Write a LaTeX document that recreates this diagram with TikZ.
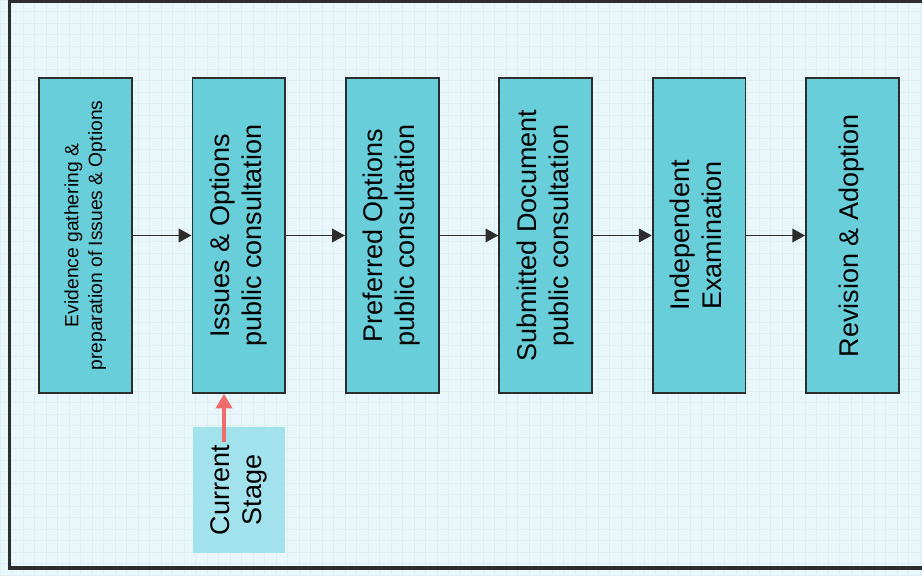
\documentclass[tikz,border=0pt]{standalone}
\usepackage{fontspec}
\setmainfont{Liberation Sans}
\usetikzlibrary{arrows.meta,positioning}

\definecolor{stagecyan}{RGB}{104,207,218}
\definecolor{paperblue}{RGB}{234,247,250}
\definecolor{gridblue}{RGB}{220,239,244}
\definecolor{currentcyan}{RGB}{162,226,236}
\definecolor{pointerred}{RGB}{240,108,108}
\definecolor{edgegray}{RGB}{45,45,45}

\newcommand{\uptext}[1]{\rotatebox{90}{\begin{tabular}{@{}c@{}}#1\end{tabular}}}

\tikzset{
  stagebox/.style={draw=edgegray, line width=1.4pt, fill=stagecyan,
    minimum width=2.32cm, minimum height=7.87cm, inner sep=0pt,
    font=\fontsize{19.2}{22.8}\selectfont},
  flowarrow/.style={draw=edgegray, line width=1.1pt,
    -{Triangle[length=0.32cm,width=0.34cm]}},
  pointer/.style={draw=pointerred, line width=2.4pt,
    -{Triangle[length=0.36cm,width=0.4cm]}}
}

\begin{document}
\begin{tikzpicture}[x=0.25cm, y=0.25cm]

\useasboundingbox (0,0) rectangle (92.2,57.5);
\clip (0,0) rectangle (92.2,57.5);
\fill[paperblue] (0,0) rectangle (92.2,57.5);
\draw[gridblue, line width=0.3pt, step=0.2875cm] (0,0) grid (92.2,57.5);
\draw[edgegray, line width=2.2pt] (93,57.35) -- (0.95,57.35) -- (0.95,0.7) -- (93,0.7);

% stages
\node[stagebox, font=\fontsize{13.7}{17}\selectfont] (evidence) at (8.55,33.95)
  {\uptext{Evidence gathering \&\\preparation of Issues \& Options}};
\node[stagebox] (issues) at (23.89,33.95)
  {\uptext{Issues \& Options\\public consultation}};
\node[stagebox] (preferred) at (39.23,33.95)
  {\uptext{Preferred Options\\public consultation}};
\node[stagebox] (submitted) at (54.57,33.95)
  {\uptext{Submitted Document\\public consultation}};
\node[stagebox] (examination) at (69.91,33.95)
  {\uptext{Independent\\Examination}};
\node[stagebox] (adoption) at (85.25,33.95)
  {\uptext{Revision \& Adoption}};

\draw[flowarrow] (evidence) -- (issues);
\draw[flowarrow] (issues) -- (preferred);
\draw[flowarrow] (preferred) -- (submitted);
\draw[flowarrow] (submitted) -- (examination);
\draw[flowarrow] (examination) -- (adoption);

% current stage marker
\node[fill=currentcyan, minimum width=2.3cm, minimum height=3.15cm, inner sep=0pt,
  font=\fontsize{19.2}{22.8}\selectfont] (current) at (23.9,8.5)
  {\uptext{Current\\Stage}};
\coordinate (pointertail) at (22.4,13.3);
\draw[pointer] (pointertail) -- (pointertail |- issues.south);

\end{tikzpicture}
\end{document}
